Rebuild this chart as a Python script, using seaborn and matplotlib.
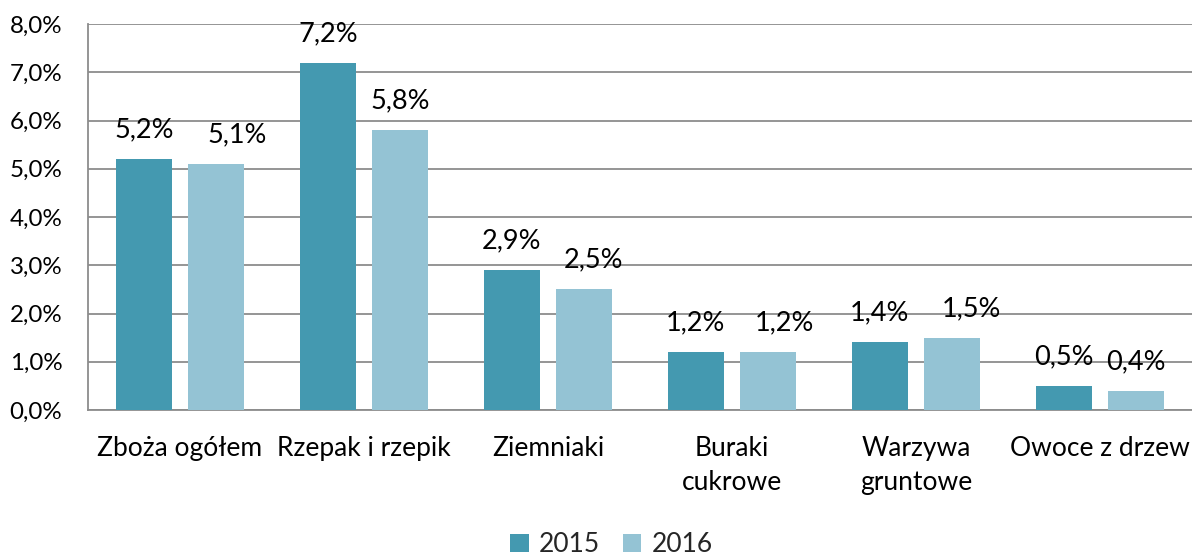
import matplotlib
matplotlib.use("Agg")
import matplotlib.pyplot as plt
import seaborn as sns
import pandas as pd

categories = ["Zboża ogółem", "Rzepak i rzepik", "Ziemniaki",
              "Buraki\ncukrowe", "Warzywa\ngruntowe", "Owoce z drzew"]
years = ["2015", "2016"]
values_2015 = [5.2, 7.2, 2.9, 1.2, 1.4, 0.5]
values_2016 = [5.1, 5.8, 2.5, 1.2, 1.5, 0.4]
y_ticks = [0, 1, 2, 3, 4, 5, 6, 7, 8]

# horizontal nudge (in points) for the 2016 value labels
nudge_2016 = [15, 0, 7, 12, 14, 0]

df = pd.DataFrame({
    "kategoria": categories * 2,
    "rok": [years[0]] * len(categories) + [years[1]] * len(categories),
    "wartosc": values_2015 + values_2016,
})

sns.set_theme(style="white")
plt.rcParams["font.family"] = ["Lato", "DejaVu Sans"]

fig = plt.figure(figsize=(11.92, 5.56), dpi=100)
ax = fig.add_axes([0.0738, 0.2626, 0.9262, 0.6942])

palette = {"2015": "#4499B0", "2016": "#94C3D4"}
sns.barplot(data=df, x="kategoria", y="wartosc", hue="rok", order=categories,
            hue_order=years, palette=palette, width=0.783, gap=0.223,
            saturation=1, linewidth=0, ax=ax, legend=True, zorder=3)

ax.set_xlim(-0.5, len(categories) - 0.5)
ax.set_ylim(0, 8)
ax.set_yticks(y_ticks)
ax.set_yticklabels([f"{v:.1f}%".replace(".", ",") for v in y_ticks])
ax.yaxis.grid(True, color="#8c8c8c", linewidth=1.3, zorder=0)
ax.set_axisbelow(True)
ax.set_xlabel("")
ax.set_ylabel("")

for side in ["top", "right"]:
    ax.spines[side].set_visible(False)
ax.spines["left"].set_color("#8c8c8c")
ax.spines["left"].set_linewidth(1.3)
ax.spines["bottom"].set_color("#8c8c8c")
ax.spines["bottom"].set_linewidth(1.3)

ax.tick_params(axis="y", length=0, pad=18.5, labelsize=17.4, labelcolor="#000000")
ax.tick_params(axis="x", length=0, pad=19, labelsize=19, labelcolor="#000000")
for lbl in ax.get_xticklabels():
    lbl.set_linespacing(1.45)

# value labels above each bar
for container, year in zip(ax.containers, years):
    vals = values_2015 if year == "2015" else values_2016
    for i, (bar, v) in enumerate(zip(container, vals)):
        dx = nudge_2016[i] if year == "2016" else 0
        ax.annotate(f"{v:.1f}%".replace(".", ","),
                    (bar.get_x() + bar.get_width() / 2, bar.get_height()),
                    xytext=(dx, 12), textcoords="offset points",
                    ha="center", va="bottom", fontsize=19.5, color="#000000")

leg = ax.get_legend()
handles = leg.legend_handles
leg.remove()
fig.legend(handles, years, loc="center", bbox_to_anchor=(0.513, 0.02),
           ncol=2, frameon=False, fontsize=19, handlelength=0.7,
           handleheight=0.7, handletextpad=0.4, columnspacing=0.85)

fig.savefig("out.png", dpi=100)
